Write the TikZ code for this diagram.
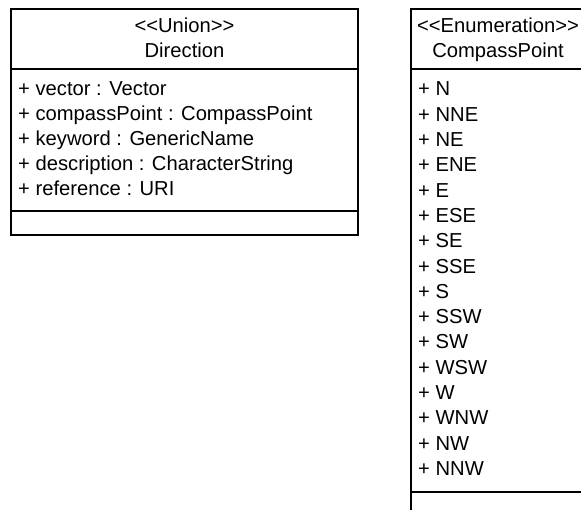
\documentclass[tikz,border=0pt]{standalone}
\usepackage{fontspec}
\setmainfont{Liberation Sans}
\begin{document}
\begin{tikzpicture}[x=1pt,y=-1pt,
  box/.style={draw=black,line width=1.3pt},
  attr/.style={inner sep=0pt,anchor=base west,font=\fontsize{20.2}{24}\selectfont},
  hdr/.style={inner sep=0pt,anchor=base,font=\fontsize{20.2}{24}\selectfont}]
\useasboundingbox (0,0) rectangle (581,510);
\clip (0,0) rectangle (581,510);
% Left class: Direction
\draw[box] (11,9) rectangle (358,235);
\draw[box] (11,69) -- (358,69);
\draw[box] (11,211) -- (358,211);
\node[hdr] (ust) at (184.5,33) {<{}<Union>{}>};
\node[hdr] (uname) at (184.5,58) {Direction};
\node[attr] (a1) at (18,96) {+ vector : Vector};
\node[attr] (a2) at (18,121) {+ compassPoint : CompassPoint};
\node[attr] (a3) at (18,146) {+ keyword : GenericName};
\node[attr] (a4) at (18,171) {+ description : CharacterString};
\node[attr] (a5) at (18,196) {+ reference : URI};
% Right class: CompassPoint
\draw[box] (411,9) rectangle (586,520);
\draw[box] (411,69) -- (586,69);
\draw[box] (411,492) -- (586,492);
\node[hdr] (est) at (498,33) {<{}<Enumeration>{}>};
\node[hdr] (ename) at (498,58) {CompassPoint};
\foreach \t [count=\i from 0] in {N,NNE,NE,ENE,E,ESE,SE,SSE,S,SSW,SW,WSW,W,WNW,NW,NNW}{
  \node[attr] (e\i) at (418,96+25.3*\i) {+ \t};
}
\end{tikzpicture}
\end{document}
